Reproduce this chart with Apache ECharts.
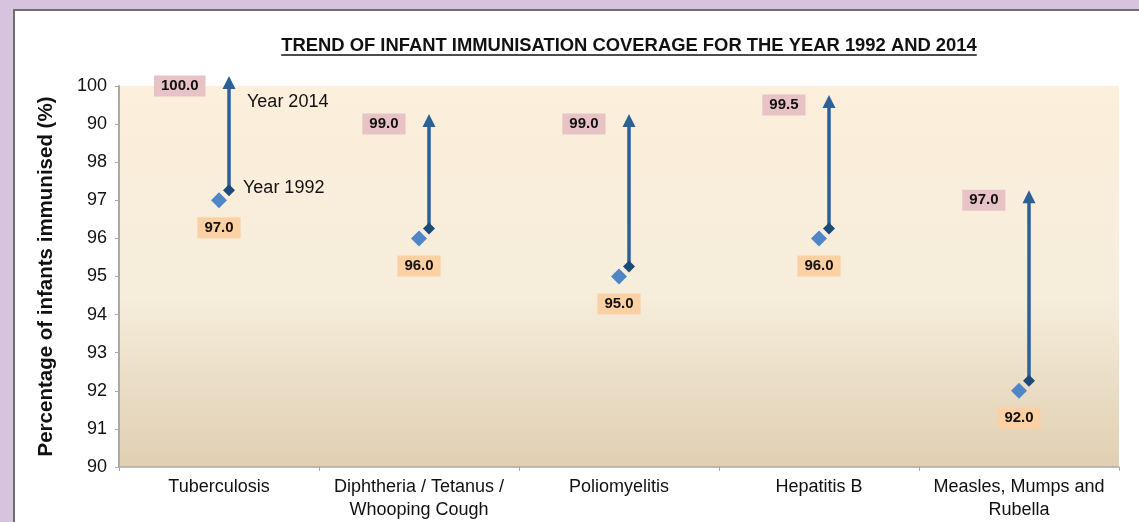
<!DOCTYPE html>
<html><head><meta charset="utf-8">
<script src="https://cdn.jsdelivr.net/npm/echarts@6.0.0/dist/echarts.min.js"></script>
<style>html,body{margin:0;padding:0;background:#d6c3de;} #c{width:1139px;height:522px;}</style>
</head><body><div id="c"></div>
<script>
const categories = ['Tuberculosis', 'Diphtheria / Tetanus /\nWhooping Cough', 'Poliomyelitis', 'Hepatitis B', 'Measles, Mumps and\nRubella'];
const coverage1992 = [97, 96, 95, 96, 92];
const coverage2014 = [100, 99, 99, 99.5, 97];
const yTickLabels = ['90', '91', '92', '93', '94', '95', '96', '97', '98', '90', '100'];
const yearNames = ['Year 1992', 'Year 2014'];
const titleText = 'TREND OF INFANT IMMUNISATION COVERAGE FOR THE YEAR 1992 AND 2014';
const yAxisName = 'Percentage of infants immunised (%)';

const FONT = '"Liberation Sans", Arial, sans-serif';
const titleFont = 'bold 18.4px ' + FONT;
const meas = document.createElement('canvas').getContext('2d');
meas.font = titleFont;
const titleW = meas.measureText(titleText).width;
const titleX = 629, titleY = 46;

const chart = echarts.init(document.getElementById('c'));
chart.setOption({
  backgroundColor: '#d6c3de',
  textStyle: { fontFamily: FONT },
  animation: false,
  graphic: [
    { type: 'rect', z: -100, shape: { x: 14, y: 10, width: 1135, height: 520 },
      style: { fill: '#ffffff', stroke: '#6e6e6e', lineWidth: 2 } },
    { type: 'text', x: titleX, y: titleY,
      style: { text: titleText, font: titleFont, fill: '#111', align: 'center', verticalAlign: 'middle' } },
    { type: 'line', shape: { x1: titleX - titleW / 2, y1: titleY + 9, x2: titleX + titleW / 2, y2: titleY + 9 },
      style: { stroke: '#111', lineWidth: 1.3 } }
  ],
  grid: {
    left: 119, right: 20, top: 86, bottom: 55, show: true, borderWidth: 0,
    backgroundColor: new echarts.graphic.LinearGradient(0, 0, 0, 1, [
      { offset: 0, color: '#fcefdb' },
      { offset: 0.55, color: '#f6eddb' },
      { offset: 1, color: '#e0cfb2' }
    ])
  },
  xAxis: {
    type: 'category', data: categories, boundaryGap: true,
    axisLine: { lineStyle: { color: '#a9a9a9', width: 1.5 } },
    axisTick: { show: true, length: 4, lineStyle: { color: '#a9a9a9' } },
    axisLabel: { interval: 0, fontSize: 18, color: '#111', lineHeight: 23, margin: 9 }
  },
  yAxis: {
    type: 'value', min: 90, max: 100, interval: 1,
    name: yAxisName, nameLocation: 'middle', nameGap: 62,
    nameTextStyle: { fontWeight: 'bold', fontSize: 20.5, color: '#111' },
    axisLine: { show: true, lineStyle: { color: '#a9a9a9', width: 2 } },
    axisTick: { show: true, length: 4, lineStyle: { color: '#a9a9a9' } },
    splitLine: { show: false },
    axisLabel: { fontSize: 18, color: '#111', margin: 12,
      formatter: v => yTickLabels[Math.round(v - 90)] }
  },
  series: [
    {
      type: 'scatter', name: '1992', data: coverage1992, z: 3,
      symbol: 'diamond', symbolSize: 16,
      itemStyle: { color: '#4f86c8', opacity: 1 },
      label: { show: true, position: 'bottom', distance: 9,
        formatter: p => p.value.toFixed(1),
        backgroundColor: '#fbd0a3', padding: [3, 7],
        fontWeight: 'bold', fontSize: 15, color: '#111' }
    },
    {
      type: 'scatter', name: '2014', data: coverage2014, z: 3,
      symbol: 'circle', symbolSize: 1, itemStyle: { color: 'rgba(0,0,0,0)', opacity: 1 },
      label: { show: true, position: 'left', distance: 13,
        formatter: p => p.value.toFixed(1),
        backgroundColor: '#e8c3c6', padding: [3, 7],
        fontWeight: 'bold', fontSize: 15, color: '#111' }
    },
    {
      type: 'custom', name: 'change', z: 5, clip: false,
      data: categories.map((c, i) => [i, coverage1992[i], coverage2014[i]]),
      encode: { x: 0, y: [1, 2] },
      renderItem: function (params, api) {
        const i = api.value(0);
        const p1 = api.coord([i, api.value(1)]);
        const p2 = api.coord([i, api.value(2)]);
        const x = p1[0] + 10, yb = p1[1] - 10, yt = p2[1] - 10;
        const col = '#2c6196';
        const children = [
          { type: 'line', shape: { x1: x, y1: yb, x2: x, y2: yt + 8 }, style: { stroke: col, lineWidth: 3.5 } },
          { type: 'polygon', shape: { points: [[x, yt], [x - 6.5, yt + 13], [x + 6.5, yt + 13]] }, style: { fill: col } },
          { type: 'polygon', shape: { points: [[x, yb - 6], [x + 6, yb], [x, yb + 6], [x - 6, yb]] }, style: { fill: '#1e4a78' } }
        ];
        if (params.dataIndex === 0) {
          children.push({ type: 'text', x: x + 18, y: p2[1] + 16,
            style: { text: yearNames[1], font: '18px ' + FONT, fill: '#111', align: 'left', verticalAlign: 'middle' } });
          children.push({ type: 'text', x: x + 14, y: yb - 2,
            style: { text: yearNames[0], font: '18px ' + FONT, fill: '#111', align: 'left', verticalAlign: 'middle' } });
        }
        return { type: 'group', children: children };
      }
    }
  ]
});
</script>
</body></html>
